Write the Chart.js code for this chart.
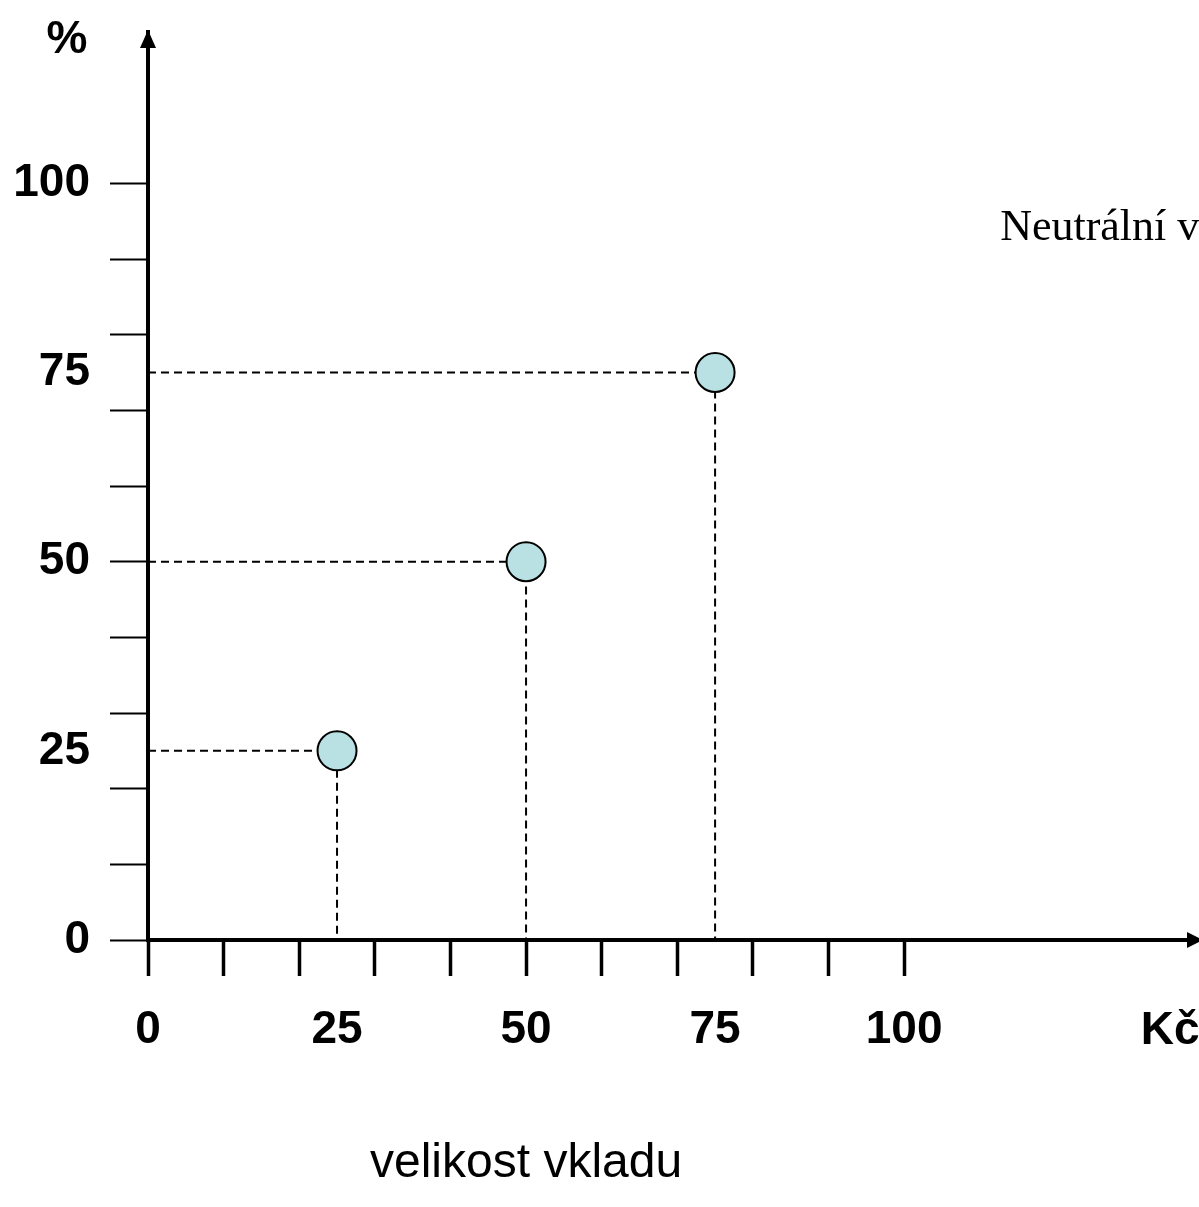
<!DOCTYPE html>
<html lang="cs">
<head>
<meta charset="utf-8">
<script src="https://cdn.jsdelivr.net/npm/chart.js@4.4.0/dist/chart.umd.min.js"></script>
<style>
  html, body { margin: 0; padding: 0; background: #fff; }
  canvas { display: block; }
</style>
</head>
<body>
<canvas id="graf" width="1199" height="1207"></canvas>
<script>
// Hodnoty vyčtené z obrázku
const vklady = [25, 50, 75];            // velikost vkladu, Kč
const pravdepodobnosti = [25, 50, 75];  // %
const xZnacky = [0, 10, 20, 30, 40, 50, 60, 70, 80, 90, 100];
const yZnacky = [0, 10, 20, 30, 40, 50, 60, 70, 80, 90, 100];
const xPopisky = [0, 25, 50, 75, 100];
const yPopisky = [0, 25, 50, 75, 100];
const xMax = 139;
const yMax = 120;

const pismoTucne = '"Liberation Sans", Arial, sans-serif';

const vsechnyTicky = (znacky, popisky) =>
  [...new Set([...znacky, ...popisky])].sort((a, b) => a - b).map(v => ({ value: v }));

// body
const body = vklady.map((v, i) => ({ x: v, y: pravdepodobnosti[i] }));

// přerušované spojnice k osám
const spojnice = vklady.map((v, i) => ({
  type: 'line',
  data: [
    { x: 0, y: pravdepodobnosti[i] },
    { x: v, y: pravdepodobnosti[i] },
    { x: v, y: 0 }
  ],
  borderColor: '#000',
  borderWidth: 2,
  borderDash: [8, 5],
  pointRadius: 0,
  fill: false,
  tension: 0,
  order: 2
}));

// šipky a texty
const sipkyAPopisky = {
  id: 'sipkyAPopisky',
  afterDraw(chart) {
    const { ctx, chartArea: a, scales: { x, y } } = chart;
    ctx.save();
    ctx.fillStyle = '#000';

    // šipka osy y
    ctx.beginPath();
    ctx.moveTo(a.left, a.top - 2);
    ctx.lineTo(a.left - 8, a.top + 16);
    ctx.lineTo(a.left + 8, a.top + 16);
    ctx.closePath();
    ctx.fill();

    // šipka osy x
    ctx.beginPath();
    ctx.moveTo(a.right + 4, a.bottom);
    ctx.lineTo(a.right - 12, a.bottom - 8);
    ctx.lineTo(a.right - 12, a.bottom + 8);
    ctx.closePath();
    ctx.fill();

    ctx.font = 'bold 46px ' + pismoTucne;
    ctx.textBaseline = 'middle';
    ctx.textAlign = 'center';
    ctx.fillText('%', 67, 40);

    ctx.textAlign = 'left';
    ctx.fillText('Kč', x.getPixelForValue(131.3), x.top + 91);

    ctx.font = '48px ' + pismoTucne;
    ctx.textAlign = 'center';
    ctx.fillText('velikost vkladu', x.getPixelForValue(50), 1164);

    ctx.font = '44px "Liberation Serif", "Times New Roman", serif';
    ctx.textAlign = 'left';
    ctx.textBaseline = 'alphabetic';
    ctx.fillText('Neutrální vůči riziku', x.getPixelForValue(112.7), y.getPixelForValue(92.5));
    ctx.restore();
  }
};

new Chart(document.getElementById('graf').getContext('2d'), {
  type: 'scatter',
  data: {
    datasets: [
      {
        type: 'scatter',
        data: body,
        pointRadius: 19.5,
        pointHoverRadius: 19.5,
        pointBackgroundColor: '#b9e0e2',
        pointBorderColor: '#000',
        pointBorderWidth: 2,
        order: 0
      },
      ...spojnice
    ]
  },
  options: {
    responsive: false,
    animation: false,
    layout: {
      autoPadding: false,
      padding: { top: 32, right: 0, left: 0, bottom: 0 }
    },
    plugins: {
      legend: { display: false },
      tooltip: { enabled: false }
    },
    scales: {
      x: {
        type: 'linear',
        position: 'bottom',
        min: 0,
        max: xMax,
        afterBuildTicks: scale => { scale.ticks = vsechnyTicky(xZnacky, xPopisky); },
        afterFit: scale => {
          scale.height = 267;
          scale.paddingLeft = 0;
          scale.paddingRight = 0;
        },
        border: { color: '#000', width: 4 },
        grid: {
          drawOnChartArea: false,
          tickLength: 36,
          tickWidth: 3.5,
          tickColor: ctx => xZnacky.includes(ctx.tick.value) ? '#000' : 'rgba(0,0,0,0)'
        },
        ticks: {
          autoSkip: false,
          maxRotation: 0,
          padding: 27,
          color: '#000',
          font: { family: pismoTucne, size: 46, weight: 'bold' },
          callback: value => xPopisky.includes(value) ? value : ''
        }
      },
      y: {
        type: 'linear',
        position: 'left',
        min: 0,
        max: yMax,
        afterBuildTicks: scale => { scale.ticks = vsechnyTicky(yZnacky, yPopisky); },
        afterFit: scale => {
          scale.width = 148;
          scale.paddingTop = 0;
          scale.paddingBottom = 0;
        },
        border: { color: '#000', width: 4 },
        grid: {
          drawOnChartArea: false,
          tickLength: 38,
          tickWidth: 2,
          tickColor: ctx => yZnacky.includes(ctx.tick.value) ? '#000' : 'rgba(0,0,0,0)'
        },
        ticks: {
          autoSkip: false,
          padding: 20,
          color: '#000',
          font: { family: pismoTucne, size: 46, weight: 'bold' },
          callback: value => yPopisky.includes(value) ? value : ''
        }
      }
    }
  },
  plugins: [sipkyAPopisky]
});
</script>
</body>
</html>
